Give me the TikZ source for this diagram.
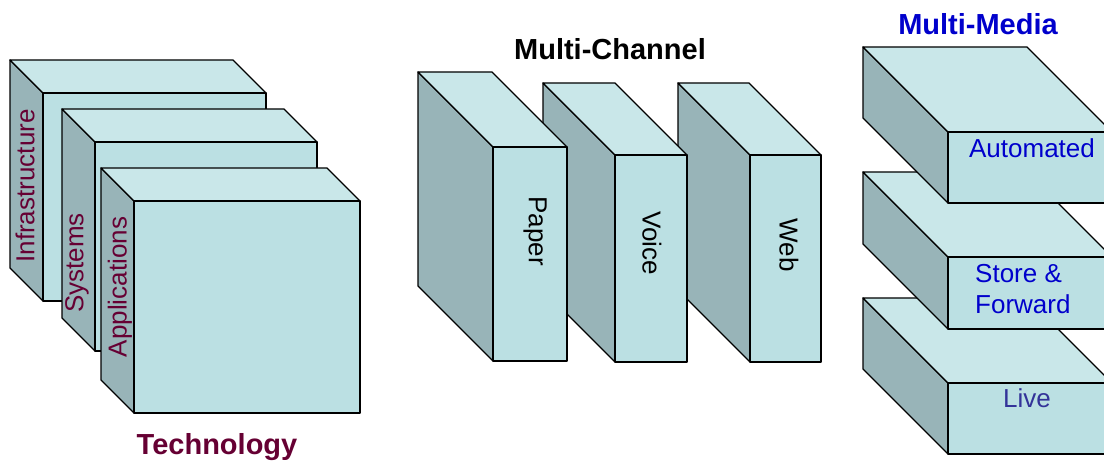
\documentclass[tikz,border=0pt]{standalone}
\usepackage{fontspec}
\setmainfont{Liberation Sans}
\definecolor{frontc}{HTML}{BBE0E3}
\definecolor{topc}{HTML}{C9E7E9}
\definecolor{sidec}{HTML}{98B4B8}
\definecolor{techred}{HTML}{660033}
\definecolor{mediablue}{HTML}{0000CC}
\definecolor{liveblue}{HTML}{333399}

% box: front-left x, front-top y, width, height, depth
\newcommand{\slab}[5]{%
	\filldraw[sideface] (#1-#5,#2-#5) -- (#1,#2) -- (#1,#2+#4) -- (#1-#5,#2+#4-#5) -- cycle;
	\filldraw[topface] (#1-#5,#2-#5) -- (#1+#3-#5,#2-#5) -- (#1+#3,#2) -- (#1,#2) -- cycle;
	\filldraw[frontface] (#1,#2) rectangle (#1+#3,#2+#4);
}

\begin{document}
\begin{tikzpicture}[x=1pt, y=-1pt]
		\tikzset{sideface/.style={fill=sidec, draw=black, line width=1.3pt, line join=round}};
		\tikzset{topface/.style={sideface, fill=topc}};
		\tikzset{frontface/.style={sideface, fill=frontc}};
		\tikzset{lbl/.style={inner sep=0pt, font=\fontsize{26}{31}\selectfont}};
		\tikzset{ttl/.style={inner sep=0pt, font=\fontsize{29}{34}\selectfont\bfseries}};

		\useasboundingbox (0,0) rectangle (1104,462);
		\clip (0,0) rectangle (1104,462);

		% technology
		\slab{43}{93}{223}{208}{33}
		\node[lbl, techred, rotate=90] (infra) at (25,186) {Infrastructure};
		\slab{95}{142}{222}{209}{33}
		\node[lbl, techred, rotate=90] (sys) at (77,263) {Systems};
		\slab{134}{201}{226}{212}{33}
		\node[lbl, techred, rotate=90] (app) at (120,287) {Applications};
		\node[ttl, techred] (tech) at (217,447) {Technology};

		% multi-channel
		\slab{750}{155}{71}{207}{72}
		\node[lbl, rotate=-90] (web) at (789,245) {Web};
		\slab{615}{155}{72}{207}{72}
		\node[lbl, rotate=-90] (voice) at (652,243) {Voice};
		\slab{493}{147}{74}{214}{75}
		\node[lbl, rotate=-90] (paper) at (535,231) {Paper};
		\node[ttl] (chan) at (610,49) {Multi-Channel};

		% multi-media
		\slab{948}{383}{164}{71}{85}
		\node[lbl, liveblue] (live) at (1027,398) {Live};
		\slab{948}{257}{164}{72}{85}
		\node[lbl, mediablue, align=left, anchor=west] (store) at (975,289) {Store \&\\Forward};
		\slab{948}{132}{164}{71}{85}
		\node[lbl, mediablue] (auto) at (1032,148) {Automated};
		\node[ttl, mediablue] (media) at (978,24) {Multi-Media};

	\end{tikzpicture}
\end{document}
